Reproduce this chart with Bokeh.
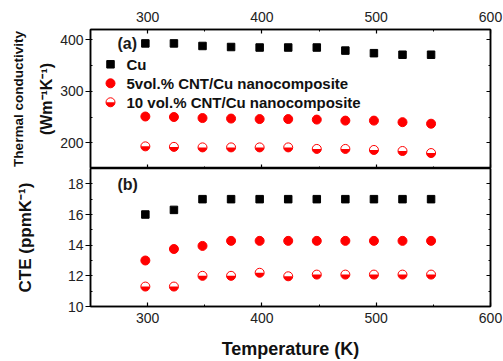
import numpy as np
from bokeh.plotting import figure
from bokeh.models import (LinearAxis, SingleIntervalTicker, FixedTicker, Range1d,
                          Label, CustomJSTickFormatter)
from bokeh.layouts import column
from bokeh.core.properties import value
from bokeh.embed import file_html
from bokeh.resources import INLINE

# ---------------- data ----------------
temperature = [298, 323, 348, 373, 398, 423, 448, 473, 498, 523, 548]
tc_cu = [393, 393, 388, 386, 385, 385, 385, 379, 374, 371, 371]
tc_5vol = [251, 250, 248, 247, 246, 246, 245, 243, 243, 240, 237]
tc_10vol = [193, 192, 191, 191, 191, 191, 188, 188, 186, 184, 180]
cte_cu = [16.0, 16.3, 17.0, 17.0, 17.0, 17.0, 17.0, 17.0, 17.0, 17.0, 17.0]
cte_5vol = [13.0, 13.75, 13.95, 14.28, 14.28, 14.28, 14.28, 14.28, 14.28, 14.28, 14.28]
cte_10vol = [11.3, 11.3, 12.0, 12.0, 12.2, 11.97, 12.08, 12.08, 12.08, 12.08, 12.08]
legend_labels = ["Cu", "5vol.% CNT/Cu nanocomposite", "10 vol.% CNT/Cu nanocomposite"]
x_ticks_interval = 100
tc_ticks_interval = 100
cte_ticks_interval = 2

FONT = "Liberation Sans"
RED = "#ff0000"
TICK_COLOR = "#222222"

# legend layout (data coordinates of the top panel)
leg_marker_x = 267.5
leg_text_x = 281.5
leg_y0 = 352.4
leg_dy = 36.9

W = 503
LEFT = 90
RIGHT = 13


def style_common(p):
    p.grid.visible = False
    p.outline_line_color = "black"
    p.outline_line_width = 1.5
    p.background_fill_color = "white"
    p.border_fill_color = "white"


def mk_axis(interval, labels=True, tick_in=0, tick_out=0, minor_in=0, minor_out=0,
            standoff=4, label=None, label_size="14px", label_standoff=5):
    ax = LinearAxis(ticker=SingleIntervalTicker(interval=interval, num_minor_ticks=2))
    ax.axis_line_color = "black"
    ax.axis_line_width = 1.5
    ax.major_tick_line_color = "black"
    ax.minor_tick_line_color = "black"
    ax.major_tick_line_width = 1.2
    ax.minor_tick_line_width = 1.0
    ax.major_tick_in = tick_in
    ax.major_tick_out = tick_out
    ax.minor_tick_in = minor_in
    ax.minor_tick_out = minor_out
    ax.major_label_text_font = FONT
    ax.major_label_text_color = TICK_COLOR
    ax.major_label_text_font_size = "14px"
    if labels:
        ax.major_label_standoff = standoff
    else:
        ax.formatter = CustomJSTickFormatter(code="return ''")
        ax.major_label_standoff = 0
    if label is not None:
        ax.axis_label = label
        ax.axis_label_text_font = FONT
        ax.axis_label_text_font_style = "bold"
        ax.axis_label_text_font_size = label_size
        ax.axis_label_text_color = "#111111"
        ax.axis_label_standoff = label_standoff
    return ax


x_range = Range1d(250, 600)

# ---------------- top panel: thermal conductivity ----------------
p1 = figure(width=W, height=168, x_range=x_range, y_range=Range1d(150, 420),
            output_backend="svg", toolbar_location=None,
            x_axis_location=None, y_axis_location=None,
            min_border_left=LEFT, min_border_right=RIGHT, min_border_top=29, min_border_bottom=0)
style_common(p1)

p1.add_layout(mk_axis(tc_ticks_interval, labels=True, tick_out=5, minor_in=2, standoff=2,
                      label="(Wm\u207b\u00b9K\u207b\u00b9)", label_size="16px", label_standoff=2), "left")
outer = LinearAxis(ticker=FixedTicker(ticks=[]), axis_label="Thermal conductivity")
outer.axis_line_color = None
outer.major_tick_line_color = None
outer.minor_tick_line_color = None
outer.major_label_standoff = 0
outer.axis_label_text_font = FONT
outer.axis_label_text_font_style = "bold"
outer.axis_label_text_font_size = "13.5px"
outer.axis_label_text_color = "#111111"
outer.axis_label_standoff = 10
p1.add_layout(outer, "left")
p1.add_layout(mk_axis(x_ticks_interval, labels=True, tick_in=4, minor_in=2, standoff=8), "above")
p1.add_layout(mk_axis(x_ticks_interval, labels=False, tick_in=4, minor_in=2), "below")
p1.add_layout(mk_axis(tc_ticks_interval, labels=False, tick_in=4, minor_in=2), "right")

p1.scatter(temperature, tc_cu, marker="square", size=7.5, fill_color="black", line_color="black")
p1.scatter(temperature, tc_5vol, marker="circle", size=9, fill_color=RED, line_color=RED)
p1.scatter(temperature, tc_10vol, marker="circle", size=9, fill_color="white", line_color=RED, line_width=1)
p1.wedge(temperature, tc_10vol, radius=4.5, radius_units="screen", start_angle=np.pi,
         end_angle=2 * np.pi, fill_color=RED, line_color=None)

# legend (manual, to reproduce the half-filled marker)
leg_y = [leg_y0 - i * leg_dy for i in range(len(legend_labels))]
p1.scatter([leg_marker_x], [leg_y[0]], marker="square", size=7.5, fill_color="black", line_color="black")
p1.scatter([leg_marker_x], [leg_y[1]], marker="circle", size=9, fill_color=RED, line_color=RED)
p1.scatter([leg_marker_x], [leg_y[2]], marker="circle", size=9, fill_color="white", line_color=RED, line_width=1)
p1.wedge([leg_marker_x], [leg_y[2]], radius=4.5, radius_units="screen", start_angle=np.pi,
         end_angle=2 * np.pi, fill_color=RED, line_color=None)
p1.text([leg_text_x] * 3, leg_y, text=legend_labels, text_font=value(FONT),
        text_font_size=value("15px"), text_font_style="bold", text_baseline="middle",
        text_color="#111111")

p1.add_layout(Label(x=273.6, y=392.8, text="(a)", text_font=FONT, text_font_size="16px",
                    text_font_style="bold", text_baseline="middle", text_color="#1a1a1a"))

# ---------------- bottom panel: CTE ----------------
p2 = figure(width=W, height=193, x_range=x_range, y_range=Range1d(10, 19),
            output_backend="svg", toolbar_location=None,
            x_axis_location=None, y_axis_location=None,
            min_border_left=LEFT, min_border_right=RIGHT, min_border_top=0, min_border_bottom=53)
style_common(p2)

p2.add_layout(mk_axis(cte_ticks_interval, labels=True, tick_out=5, minor_in=2, standoff=2,
                      label="CTE (ppmK\u207b\u00b9)", label_size="17px", label_standoff=30), "left")
p2.add_layout(mk_axis(x_ticks_interval, labels=True, tick_in=4, minor_in=2, standoff=6,
                      label="Temperature (K)", label_size="18px", label_standoff=13), "below")
p2.add_layout(mk_axis(cte_ticks_interval, labels=False, tick_in=4, minor_in=2), "right")

p2.scatter(temperature, cte_cu, marker="square", size=7.5, fill_color="black", line_color="black")
p2.scatter(temperature, cte_5vol, marker="circle", size=9, fill_color=RED, line_color=RED)
p2.scatter(temperature, cte_10vol, marker="circle", size=9, fill_color="white", line_color=RED, line_width=1)
p2.wedge(temperature, cte_10vol, radius=4.5, radius_units="screen", start_angle=np.pi,
         end_angle=2 * np.pi, fill_color=RED, line_color=None)

p2.add_layout(Label(x=273.6, y=17.94, text="(b)", text_font=FONT, text_font_size="16px",
                    text_font_style="bold", text_baseline="middle", text_color="#1a1a1a"))

layout = column(p1, p2, spacing=0)
open("out.html", "w").write(file_html(layout, INLINE))
